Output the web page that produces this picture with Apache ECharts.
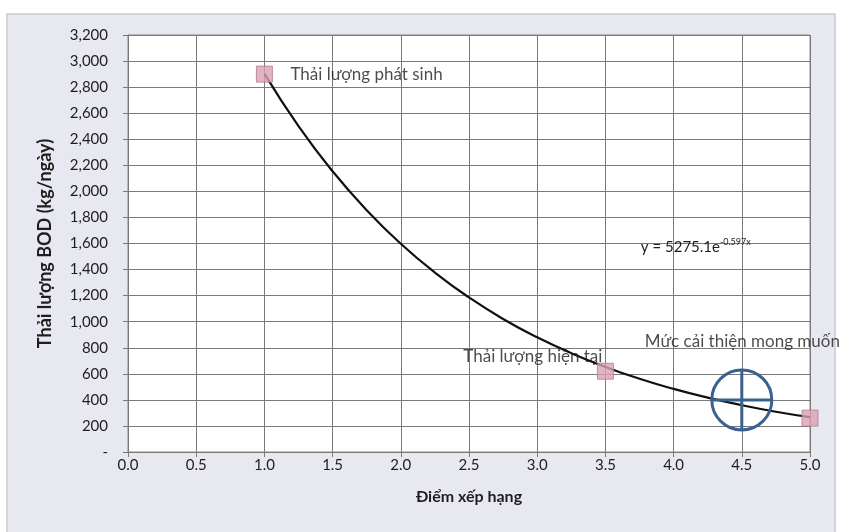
<!DOCTYPE html>
<html>
<head>
<meta charset="utf-8">
<style>
  html, body { margin: 0; padding: 0; background: #ffffff; }
  #chart { width: 844px; height: 532px; }
</style>
<script src="https://cdn.jsdelivr.net/npm/echarts@6/dist/echarts.min.js"></script>
</head>
<body>
<div id="chart"></div>
<script>
// Measured points: rating score vs BOD load (kg/day)
const pointX = [1.0, 3.5, 5.0];
const pointY = [2900, 620, 260];
const pointNames = ['Thải lượng phát sinh', 'Thải lượng hiện tại', ''];

// Exponential trendline y = 5275.1e^(-0.597x)
const trendX = [1.0, 1.25, 1.5, 1.75, 2.0, 2.25, 2.5, 2.75, 3.0, 3.25, 3.5, 3.75, 4.0, 4.25, 4.5, 4.75, 5.0];
const trendY = [2904, 2501, 2154, 1856, 1598, 1377, 1186, 1021, 880, 758, 653, 562, 484, 417, 359, 309, 267];
const trendLabel = 'y = 5275.1e';
const trendExp = '-0.597x';
const trendLabelAt = [3.76, 1575];

// Target level
const targetX = [4.5];
const targetY = [400];
const targetName = 'Mức cải thiện mong muốn';

// Axes
const xTicks = ['0.0', '0.5', '1.0', '1.5', '2.0', '2.5', '3.0', '3.5', '4.0', '4.5', '5.0'];
const xTitle = 'Điểm xếp hạng';
const yTitle = 'Thải lượng BOD (kg/ngày)';

const textFont = 'Lato, "Open Sans", sans-serif';
const ink = '#1e1e1e';
const targetBlue = '#3b6190';

const chart = echarts.init(document.getElementById('chart'), null, { renderer: 'canvas' });

const zip = (xs, ys) => xs.map((x, i) => [x, ys[i]]);

// Crosshair-in-circle marker for the target level
function renderTarget(params, api) {
  const c = api.coord([api.value(0), api.value(1)]);
  const r = 30;
  const stroke = { stroke: targetBlue, lineWidth: 3, fill: null };
  return {
    type: 'group',
    children: [
      { type: 'circle', shape: { cx: c[0], cy: c[1], r: r }, style: stroke },
      { type: 'line', shape: { x1: c[0] - r, y1: c[1], x2: c[0] + r, y2: c[1] }, style: stroke },
      { type: 'line', shape: { x1: c[0], y1: c[1] - r, x2: c[0], y2: c[1] + r }, style: stroke }
    ]
  };
}

chart.setOption({
  animation: false,
  backgroundColor: '#ffffff',
  graphic: [{
    type: 'rect',
    z: -10,
    shape: { x: 7, y: 14, width: 828, height: 520 },
    style: { fill: '#e8e8f0', stroke: '#c9c9d4', lineWidth: 1.5 }
  }],
  grid: {
    left: 128, right: 34, top: 35, bottom: 80,
    show: true, backgroundColor: '#ffffff', borderColor: '#8a8a8a', borderWidth: 1
  },
  xAxis: {
    type: 'value', min: 0, max: 5, interval: 0.5,
    name: xTitle, nameLocation: 'middle', nameGap: 37,
    nameTextStyle: { fontFamily: textFont, fontWeight: 'bold', fontSize: 16, color: ink },
    axisLine: { show: true, lineStyle: { color: '#7a7a7a', width: 1 } },
    axisTick: { show: true, length: 5, lineStyle: { color: '#7a7a7a' } },
    splitLine: { show: true, lineStyle: { color: '#7a7a7a', width: 1 } },
    axisLabel: {
      margin: 6, fontFamily: textFont, fontSize: 15, color: ink,
      formatter: (v) => xTicks[Math.round(v * 2)]
    }
  },
  yAxis: {
    type: 'value', min: 0, max: 3200, interval: 200,
    name: yTitle, nameLocation: 'middle', nameGap: 74, nameRotate: 90,
    nameTextStyle: { fontFamily: textFont, fontWeight: 'bold', fontSize: 18, color: ink },
    axisLine: { show: true, lineStyle: { color: '#7a7a7a', width: 1 } },
    axisTick: { show: true, length: 5, lineStyle: { color: '#7a7a7a' } },
    splitLine: { show: true, lineStyle: { color: '#7a7a7a', width: 1 } },
    axisLabel: {
      margin: 20, fontFamily: textFont, fontSize: 15, color: ink,
      formatter: (v) => v === 0 ? '-' : v.toLocaleString('en-US')
    }
  },
  series: [
    {
      name: 'trend', type: 'line', data: zip(trendX, trendY),
      smooth: true, symbol: 'none', z: 3,
      lineStyle: { color: '#111111', width: 2.2 },
      markPoint: {
        symbol: 'rect', symbolSize: 0,
        data: [{ coord: trendLabelAt, value: 0 }],
        label: {
          show: true, position: 'inside', align: 'left', verticalAlign: 'middle',
          formatter: () => '{b|' + trendLabel + '}{s|' + trendExp + '}',
          rich: {
            b: { fontFamily: textFont, fontSize: 15, color: ink },
            s: { fontFamily: textFont, fontSize: 9, color: ink, verticalAlign: 'top', padding: [0, 0, 9, 0] }
          }
        }
      }
    },
    {
      name: 'points', type: 'scatter', z: 4,
      data: pointX.map((x, i) => ({
        value: [x, pointY[i]],
        label: i === 1
          ? { show: true, position: 'inside', align: 'right', offset: [-3, -15] }
          : { show: i === 0, position: 'inside', align: 'left', offset: [26, 0] }
      })),
      symbol: 'rect', symbolSize: 16,
      itemStyle: { color: '#dba1b3', borderColor: '#b47a8c', borderWidth: 1 },
      label: {
        fontFamily: textFont, fontSize: 17, color: ink, verticalAlign: 'middle',
        formatter: (p) => pointNames[p.dataIndex]
      }
    },
    {
      name: 'target', type: 'custom', z: 5,
      data: zip(targetX, targetY),
      renderItem: renderTarget,
      clip: false
    },
    {
      name: 'targetLabel', type: 'scatter', z: 6, silent: true,
      data: zip(targetX, targetY),
      symbolSize: 0,
      label: {
        show: true, position: 'inside', align: 'left', verticalAlign: 'middle', offset: [-97, -58],
        fontFamily: textFont, fontSize: 17, color: ink,
        formatter: () => targetName
      }
    }
  ]
});
</script>
</body>
</html>
